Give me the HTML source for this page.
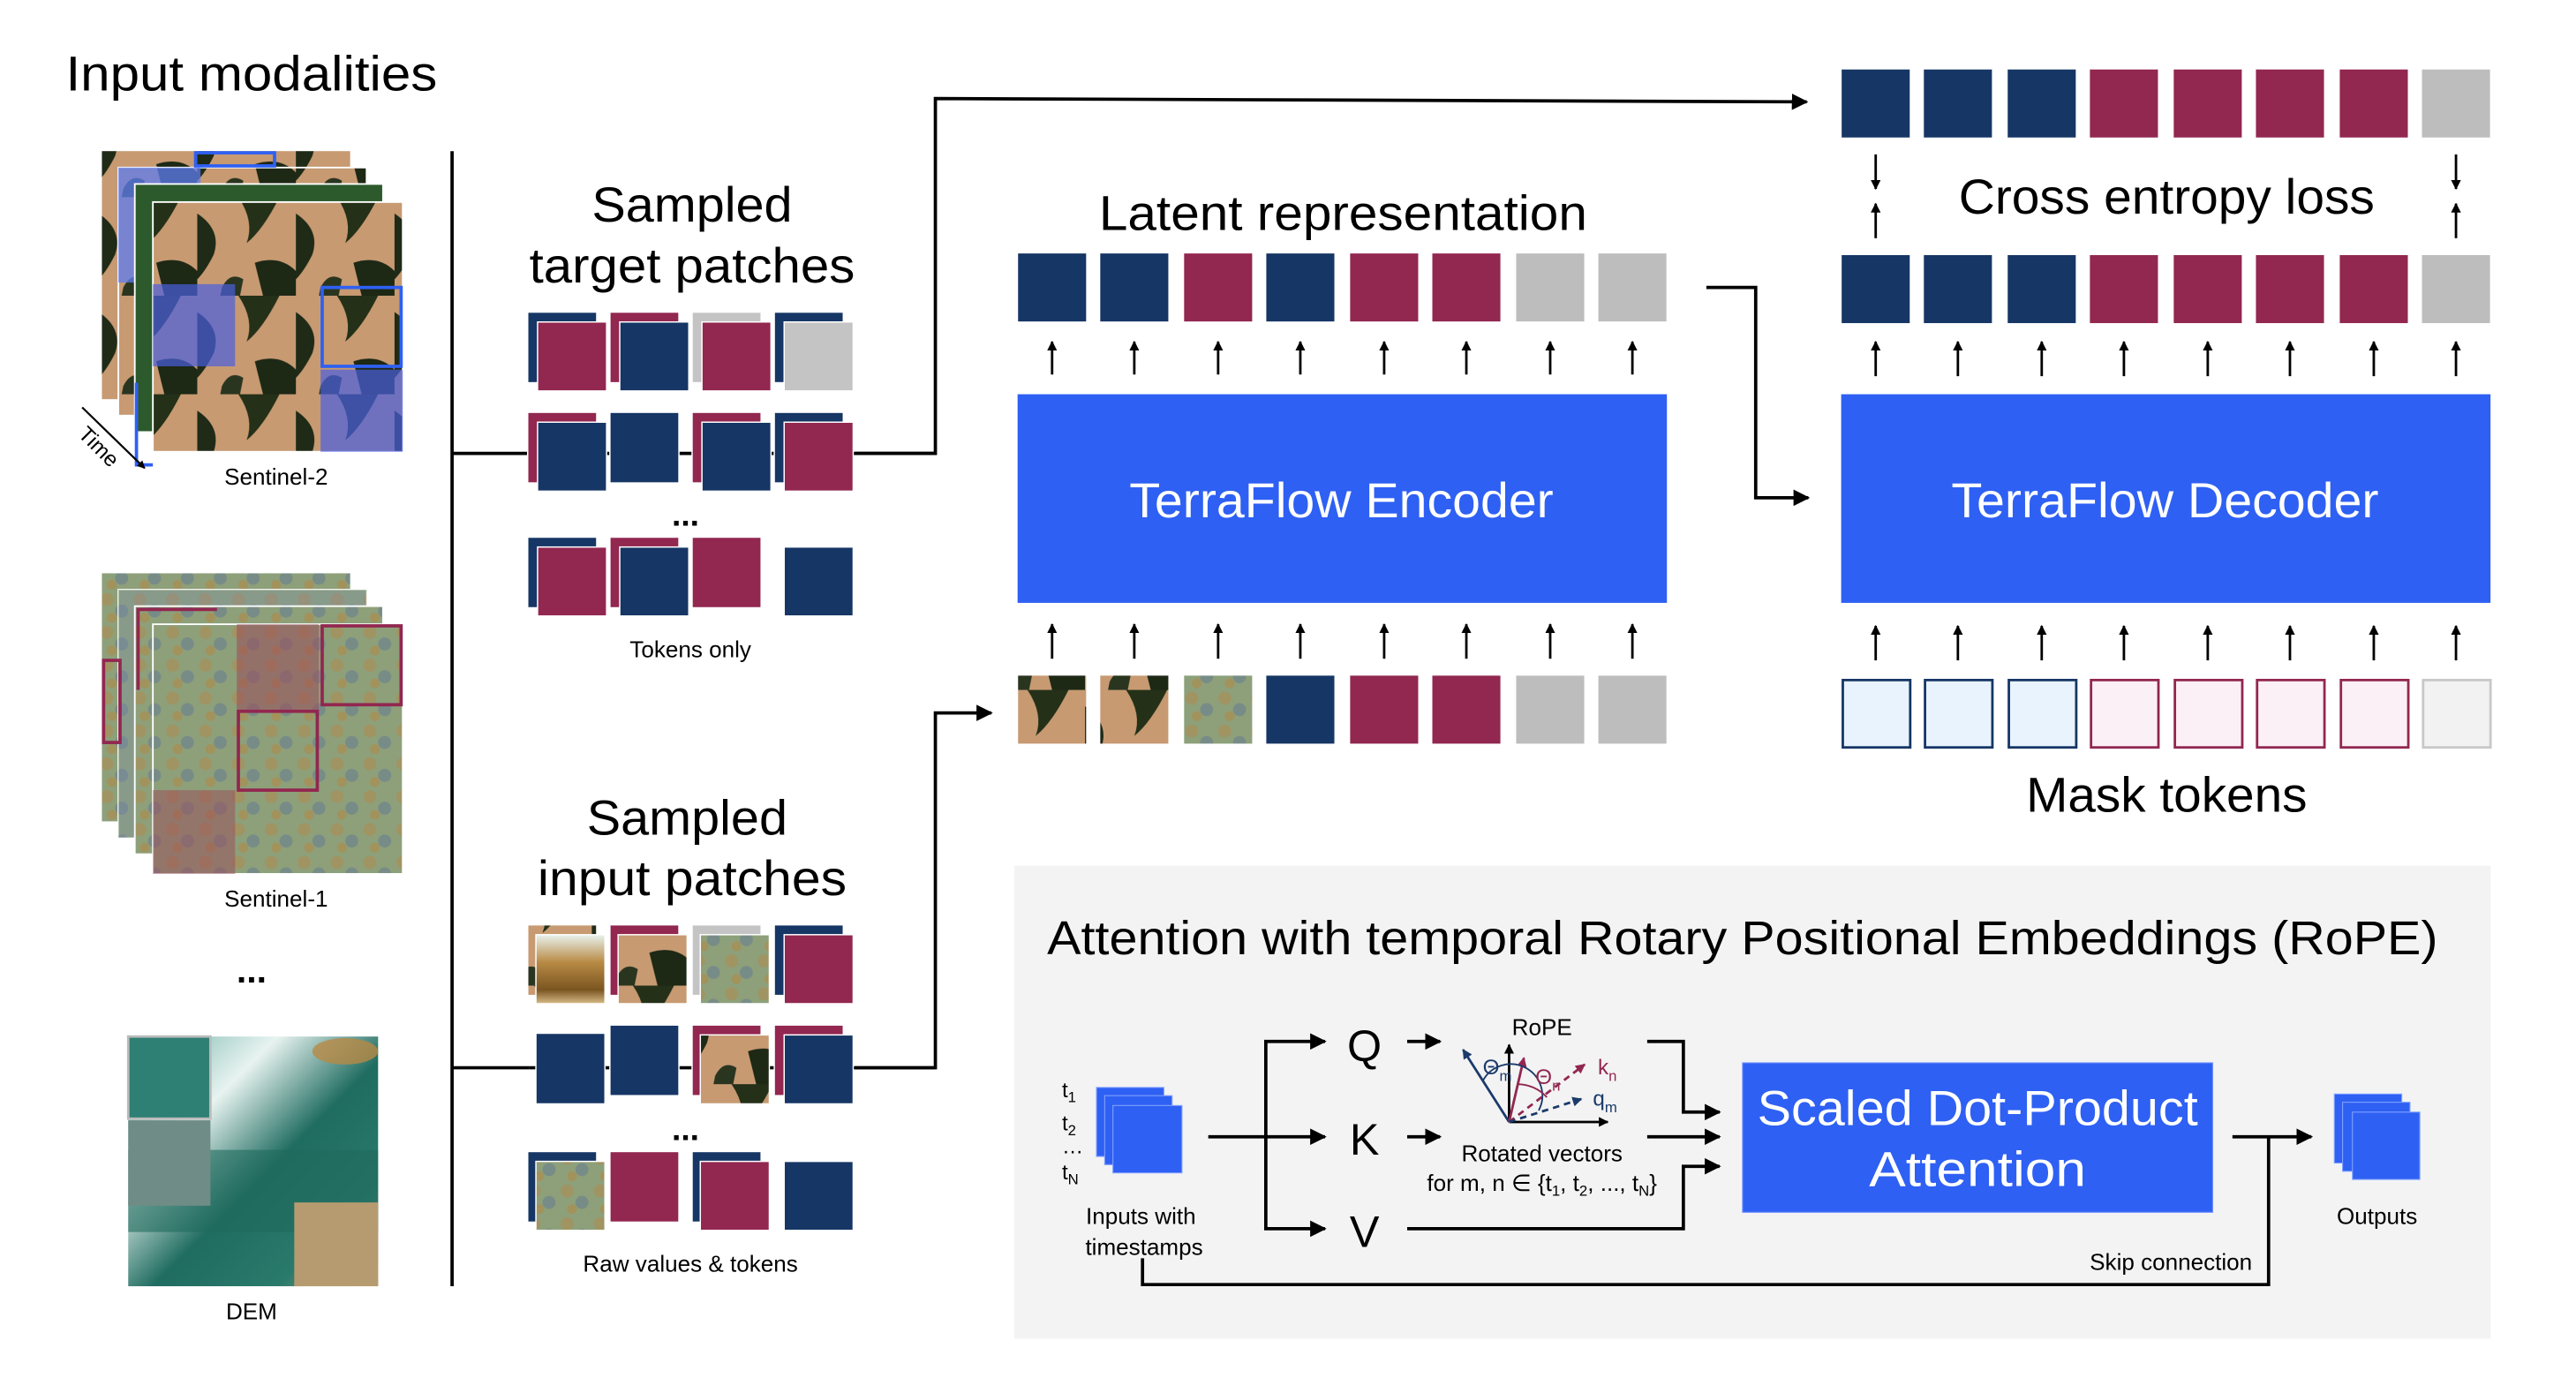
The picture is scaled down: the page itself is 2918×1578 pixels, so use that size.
<!DOCTYPE html>
<html><head><meta charset="utf-8"><style>
html,body{margin:0;padding:0;background:#fff;}
svg{display:block;}
text{font-family:"Liberation Sans",sans-serif;}
</style></head><body>
<svg width="2918" height="1578" viewBox="0 0 1567 848" preserveAspectRatio="none" xmlns="http://www.w3.org/2000/svg">
<defs>
<marker id="ah" viewBox="0 0 10 10" refX="9" refY="5" markerWidth="5" markerHeight="5" orient="auto-start-reverse"><path d="M0,0 L10,5 L0,10 z" fill="#000"/></marker>
<marker id="ahs" viewBox="0 0 10 10" refX="9" refY="5" markerWidth="4" markerHeight="6" orient="auto-start-reverse"><path d="M0,0 L10,5 L0,10 z" fill="#000"/></marker>
<marker id="ahn" viewBox="0 0 10 10" refX="9" refY="5" markerWidth="4" markerHeight="4" orient="auto"><path d="M0,0 L10,5 L0,10 z" fill="#1b3a6b"/></marker>
<marker id="ahm" viewBox="0 0 10 10" refX="9" refY="5" markerWidth="4" markerHeight="4" orient="auto"><path d="M0,0 L10,5 L0,10 z" fill="#922750"/></marker>
<pattern id="s2" width="60" height="60" patternUnits="userSpaceOnUse">
<rect width="60" height="60" fill="#c79a72"/>
<path d="M0,10 Q15,20 10,35 Q5,45 0,50Z" fill="#1f2a17"/>
<path d="M25,0 Q35,15 30,28 Q40,20 50,0Z" fill="#243018"/>
<path d="M35,40 Q50,35 60,45 L60,60 L40,60Z" fill="#1d2815"/>
<path d="M15,55 Q20,45 28,50 L26,60 L14,60Z" fill="#2a3520"/>
</pattern>
<pattern id="s1" width="20" height="20" patternUnits="userSpaceOnUse">
<rect width="20" height="20" fill="#8da07a"/>
<circle cx="5" cy="5" r="4" fill="#a98f5a" opacity=".7"/>
<circle cx="14" cy="12" r="4" fill="#6a7f8f" opacity=".6"/>
<circle cx="8" cy="16" r="3" fill="#b8843e" opacity=".5"/>
</pattern>
<linearGradient id="dem" x1="0" y1="0" x2="1" y2="1">
<stop offset="0" stop-color="#5fa9a0"/><stop offset=".3" stop-color="#e8f3f0"/><stop offset=".55" stop-color="#1f6c60"/><stop offset=".8" stop-color="#2a7a6c"/><stop offset="1" stop-color="#c2a070"/>
</linearGradient>
<linearGradient id="demb" x1="0" y1="0" x2="0" y2="1">
<stop offset="0" stop-color="#e9f2ee"/><stop offset=".4" stop-color="#b88a45"/><stop offset=".8" stop-color="#7a5520"/><stop offset="1" stop-color="#d8bc8a"/>
</linearGradient>
</defs>

<text x="40" y="55" font-size="30" textLength="226" lengthAdjust="spacingAndGlyphs">Input modalities</text>

<!-- Sentinel-2 stack -->
<rect x="62" y="92" width="151" height="151" fill="url(#s2)"/>
<rect x="72" y="102" width="151" height="151" fill="url(#s2)" stroke="#fff" stroke-width="1"/>
<rect x="72" y="102" width="50" height="70" fill="#5d7cf0" opacity=".75"/>
<rect x="82" y="112" width="151" height="151" fill="#2c5a2c" stroke="#fff" stroke-width="1"/>
<rect x="93" y="123" width="152" height="152" fill="url(#s2)" stroke="#fff" stroke-width="1"/>
<rect x="93" y="173" width="50" height="50" fill="#4a5fe0" opacity=".7"/>
<rect x="195" y="225" width="50" height="50" fill="#4a5fe0" opacity=".7"/>
<rect x="196" y="175" width="48" height="48" fill="none" stroke="#2e60f3" stroke-width="2"/>
<rect x="119" y="93" width="48" height="8" fill="none" stroke="#2e60f3" stroke-width="2"/>
<path d="M83,233 v50 h10" fill="none" stroke="#2e60f3" stroke-width="2"/>
<line x1="50" y1="248" x2="88" y2="285" stroke="#000" stroke-width="1.2" marker-end="url(#ahs)"/>
<text x="47" y="265" font-size="13" transform="rotate(45 47 265)">Time</text>
<text x="168" y="295" font-size="14" text-anchor="middle">Sentinel-2</text>

<!-- Sentinel-1 stack -->
<rect x="62" y="349" width="151" height="151" fill="url(#s1)"/>
<rect x="72" y="359" width="151" height="151" fill="#7c8bb0" stroke="#fff"/>
<rect x="72" y="359" width="151" height="151" fill="url(#s1)" opacity=".7"/>
<rect x="82" y="369" width="151" height="151" fill="url(#s1)" stroke="#fff"/>
<rect x="93" y="380" width="152" height="152" fill="url(#s1)" stroke="#fff"/>
<rect x="144" y="380" width="50" height="52" fill="#9a4a5a" opacity=".55"/>
<rect x="93" y="481" width="50" height="51" fill="#9a4a5a" opacity=".5"/>
<rect x="196" y="381" width="48" height="48" fill="none" stroke="#922750" stroke-width="2"/>
<rect x="145" y="433" width="48" height="48" fill="none" stroke="#922750" stroke-width="2"/>
<rect x="63" y="402" width="10" height="50" fill="none" stroke="#922750" stroke-width="2"/>
<path d="M84,420 v-49 h48" fill="none" stroke="#922750" stroke-width="2"/>
<text x="168" y="552" font-size="14" text-anchor="middle">Sentinel-1</text>
<text x="153" y="598" font-size="22" text-anchor="middle" font-weight="bold">...</text>

<!-- DEM -->
<rect x="78" y="631" width="152" height="152" fill="url(#dem)"/>
<rect x="78" y="700" width="152" height="50" fill="#1f6a5e" opacity=".6"/>
<rect x="78" y="631" width="50" height="50" fill="#2e7f74" stroke="#bbb" stroke-width="1.5"/>
<rect x="78" y="682" width="50" height="52" fill="#6f8c86"/>
<rect x="179" y="732" width="51" height="51" fill="#b79b70"/>
<ellipse cx="210" cy="640" rx="20" ry="8" fill="#b88a45" opacity=".8"/>
<text x="153" y="803" font-size="14" text-anchor="middle">DEM</text>

<line x1="275" y1="92" x2="275" y2="783" stroke="#000" stroke-width="2"/>
<line x1="275" y1="276" x2="322" y2="276" stroke="#000" stroke-width="2"/>
<line x1="275" y1="650" x2="322" y2="650" stroke="#000" stroke-width="2"/>

<text x="421" y="135" font-size="30" text-anchor="middle" textLength="122" lengthAdjust="spacingAndGlyphs">Sampled</text>
<text x="421" y="172" font-size="30" text-anchor="middle" textLength="198" lengthAdjust="spacingAndGlyphs">target patches</text>
<line x1="322" y1="276" x2="569" y2="276" stroke="#000" stroke-width="2"/>
<g stroke="#fff" stroke-width=".8">
<rect x="321" y="190" width="42" height="43" fill="#163665"/><rect x="327" y="196" width="42" height="42" fill="#922750"/>
<rect x="371" y="190" width="42" height="43" fill="#922750"/><rect x="377" y="196" width="42" height="42" fill="#163665"/>
<rect x="421" y="190" width="42" height="43" fill="#c4c4c4"/><rect x="427" y="196" width="42" height="42" fill="#922750"/>
<rect x="471" y="190" width="42" height="43" fill="#163665"/><rect x="477" y="196" width="42" height="42" fill="#c4c4c4"/>
<rect x="321" y="251" width="42" height="43" fill="#922750"/><rect x="327" y="257" width="42" height="42" fill="#163665"/>
<rect x="371" y="251" width="42" height="43" fill="#163665"/>
<rect x="421" y="251" width="42" height="43" fill="#922750"/><rect x="427" y="257" width="42" height="42" fill="#163665"/>
<rect x="471" y="251" width="42" height="43" fill="#163665"/><rect x="477" y="257" width="42" height="42" fill="#922750"/>
<rect x="321" y="327" width="42" height="43" fill="#163665"/><rect x="327" y="333" width="42" height="42" fill="#922750"/>
<rect x="371" y="327" width="42" height="43" fill="#922750"/><rect x="377" y="333" width="42" height="42" fill="#163665"/>
<rect x="421" y="327" width="42" height="43" fill="#922750"/>
<rect x="477" y="333" width="42" height="42" fill="#163665"/>
</g>
<text x="417" y="320" font-size="20" text-anchor="middle" font-weight="bold">...</text>
<text x="420" y="400" font-size="14" text-anchor="middle">Tokens only</text>

<text x="418" y="508" font-size="30" text-anchor="middle" textLength="122" lengthAdjust="spacingAndGlyphs">Sampled</text>
<text x="421" y="545" font-size="30" text-anchor="middle" textLength="188" lengthAdjust="spacingAndGlyphs">input patches</text>
<line x1="322" y1="650" x2="569" y2="650" stroke="#000" stroke-width="2"/>
<g stroke="#fff" stroke-width=".8">
<rect x="321" y="563" width="42" height="43" fill="url(#s2)"/><rect x="326" y="569" width="42" height="42" fill="url(#demb)"/>
<rect x="371" y="563" width="42" height="43" fill="#922750"/><rect x="376" y="569" width="42" height="42" fill="url(#s2)"/>
<rect x="421" y="563" width="42" height="43" fill="#c4c4c4"/><rect x="426" y="569" width="42" height="42" fill="url(#s1)"/>
<rect x="471" y="563" width="42" height="43" fill="#163665"/><rect x="477" y="569" width="42" height="42" fill="#922750"/>
<rect x="326" y="629" width="42" height="43" fill="#163665"/>
<rect x="371" y="624" width="42" height="43" fill="#163665"/>
<rect x="421" y="624" width="42" height="43" fill="#922750"/><rect x="426" y="630" width="42" height="42" fill="url(#s2)"/>
<rect x="471" y="624" width="42" height="43" fill="#922750"/><rect x="477" y="630" width="42" height="42" fill="#163665"/>
<rect x="321" y="701" width="42" height="43" fill="#163665"/><rect x="326" y="707" width="42" height="42" fill="url(#s1)"/>
<rect x="371" y="701" width="42" height="43" fill="#922750"/>
<rect x="421" y="701" width="42" height="43" fill="#163665"/><rect x="426" y="707" width="42" height="42" fill="#922750"/>
<rect x="477" y="707" width="42" height="42" fill="#163665"/>
</g>
<text x="417" y="694" font-size="20" text-anchor="middle" font-weight="bold">...</text>
<text x="420" y="774" font-size="14" text-anchor="middle">Raw values &amp; tokens</text>

<polyline points="520,276 569,276 569,60 1099,62" fill="none" stroke="#000" stroke-width="2" marker-end="url(#ah)"/>
<polyline points="520,650 569,650 569,434 603,434" fill="none" stroke="#000" stroke-width="2" marker-end="url(#ah)"/>
<polyline points="1038,175 1068,175 1068,303 1100,303" fill="none" stroke="#000" stroke-width="2" marker-end="url(#ah)"/>

<text x="817" y="140" font-size="30" text-anchor="middle" textLength="297" lengthAdjust="spacingAndGlyphs">Latent representation</text>
<g stroke="#fff" stroke-width=".6">
<rect x="619" y="154" width="42" height="42" fill="#163665"/>
<rect x="669" y="154" width="42" height="42" fill="#163665"/>
<rect x="720" y="154" width="42" height="42" fill="#922750"/>
<rect x="770" y="154" width="42" height="42" fill="#163665"/>
<rect x="821" y="154" width="42" height="42" fill="#922750"/>
<rect x="871" y="154" width="42" height="42" fill="#922750"/>
<rect x="922" y="154" width="42" height="42" fill="#bdbdbd"/>
<rect x="972" y="154" width="42" height="42" fill="#bdbdbd"/>
</g>
<g stroke="#000" stroke-width="1.5" marker-end="url(#ahs)">
<line x1="640" y1="228" x2="640" y2="208"/><line x1="690" y1="228" x2="690" y2="208"/><line x1="741" y1="228" x2="741" y2="208"/><line x1="791" y1="228" x2="791" y2="208"/><line x1="842" y1="228" x2="842" y2="208"/><line x1="892" y1="228" x2="892" y2="208"/><line x1="943" y1="228" x2="943" y2="208"/><line x1="993" y1="228" x2="993" y2="208"/>
<line x1="640" y1="401" x2="640" y2="380"/><line x1="690" y1="401" x2="690" y2="380"/><line x1="741" y1="401" x2="741" y2="380"/><line x1="791" y1="401" x2="791" y2="380"/><line x1="842" y1="401" x2="842" y2="380"/><line x1="892" y1="401" x2="892" y2="380"/><line x1="943" y1="401" x2="943" y2="380"/><line x1="993" y1="401" x2="993" y2="380"/>
<line x1="1141" y1="229" x2="1141" y2="208"/><line x1="1191" y1="229" x2="1191" y2="208"/><line x1="1242" y1="229" x2="1242" y2="208"/><line x1="1292" y1="229" x2="1292" y2="208"/><line x1="1343" y1="229" x2="1343" y2="208"/><line x1="1393" y1="229" x2="1393" y2="208"/><line x1="1444" y1="229" x2="1444" y2="208"/><line x1="1494" y1="229" x2="1494" y2="208"/>
<line x1="1141" y1="402" x2="1141" y2="381"/><line x1="1191" y1="402" x2="1191" y2="381"/><line x1="1242" y1="402" x2="1242" y2="381"/><line x1="1292" y1="402" x2="1292" y2="381"/><line x1="1343" y1="402" x2="1343" y2="381"/><line x1="1393" y1="402" x2="1393" y2="381"/><line x1="1444" y1="402" x2="1444" y2="381"/><line x1="1494" y1="402" x2="1494" y2="381"/>
<line x1="1141" y1="94" x2="1141" y2="115"/><line x1="1494" y1="94" x2="1494" y2="115"/>
<line x1="1141" y1="145" x2="1141" y2="124"/><line x1="1494" y1="145" x2="1494" y2="124"/>
</g>

<rect x="619" y="240" width="395" height="127" fill="#2e60f3"/>
<text x="816" y="315" font-size="30" fill="#fff" text-anchor="middle" textLength="258" lengthAdjust="spacingAndGlyphs">TerraFlow Encoder</text>

<g stroke="#fff" stroke-width=".6">
<rect x="619" y="411" width="42" height="42" fill="url(#s2)"/>
<rect x="669" y="411" width="42" height="42" fill="url(#s2)"/>
<rect x="720" y="411" width="42" height="42" fill="url(#s1)"/>
<rect x="770" y="411" width="42" height="42" fill="#163665"/>
<rect x="821" y="411" width="42" height="42" fill="#922750"/>
<rect x="871" y="411" width="42" height="42" fill="#922750"/>
<rect x="922" y="411" width="42" height="42" fill="#bdbdbd"/>
<rect x="972" y="411" width="42" height="42" fill="#bdbdbd"/>
</g>

<g stroke="#fff" stroke-width=".6">
<rect x="1120" y="42" width="42" height="42" fill="#163665"/>
<rect x="1170" y="42" width="42" height="42" fill="#163665"/>
<rect x="1221" y="42" width="42" height="42" fill="#163665"/>
<rect x="1271" y="42" width="42" height="42" fill="#922750"/>
<rect x="1322" y="42" width="42" height="42" fill="#922750"/>
<rect x="1372" y="42" width="42" height="42" fill="#922750"/>
<rect x="1423" y="42" width="42" height="42" fill="#922750"/>
<rect x="1473" y="42" width="42" height="42" fill="#bdbdbd"/>
<rect x="1120" y="155" width="42" height="42" fill="#163665"/>
<rect x="1170" y="155" width="42" height="42" fill="#163665"/>
<rect x="1221" y="155" width="42" height="42" fill="#163665"/>
<rect x="1271" y="155" width="42" height="42" fill="#922750"/>
<rect x="1322" y="155" width="42" height="42" fill="#922750"/>
<rect x="1372" y="155" width="42" height="42" fill="#922750"/>
<rect x="1423" y="155" width="42" height="42" fill="#922750"/>
<rect x="1473" y="155" width="42" height="42" fill="#bdbdbd"/>
</g>
<text x="1318" y="130" font-size="30" text-anchor="middle" textLength="253" lengthAdjust="spacingAndGlyphs">Cross entropy loss</text>
<rect x="1120" y="240" width="395" height="127" fill="#2e60f3"/>
<text x="1317" y="315" font-size="30" fill="#fff" text-anchor="middle" textLength="260" lengthAdjust="spacingAndGlyphs">TerraFlow Decoder</text>
<g stroke-width="1.5">
<rect x="1121" y="414" width="41" height="41" fill="#e8f3fd" stroke="#163665"/>
<rect x="1171" y="414" width="41" height="41" fill="#e8f3fd" stroke="#163665"/>
<rect x="1222" y="414" width="41" height="41" fill="#e8f3fd" stroke="#163665"/>
<rect x="1272" y="414" width="41" height="41" fill="#fbf0f5" stroke="#922750"/>
<rect x="1323" y="414" width="41" height="41" fill="#fbf0f5" stroke="#922750"/>
<rect x="1373" y="414" width="41" height="41" fill="#fbf0f5" stroke="#922750"/>
<rect x="1424" y="414" width="41" height="41" fill="#fbf0f5" stroke="#922750"/>
<rect x="1474" y="414" width="41" height="41" fill="#f2f2f2" stroke="#c8c8c8"/>
</g>
<text x="1318" y="494" font-size="30" text-anchor="middle" textLength="171" lengthAdjust="spacingAndGlyphs">Mask tokens</text>

<rect x="617" y="527" width="898" height="288" fill="#f3f3f3"/>
<text x="637" y="581" font-size="29" textLength="846" lengthAdjust="spacingAndGlyphs">Attention with temporal Rotary Positional Embeddings (RoPE)</text>

<g font-size="13">
<text x="646" y="668">t<tspan font-size="9" dy="3">1</tspan></text>
<text x="646" y="688">t<tspan font-size="9" dy="3">2</tspan></text>
<text x="646" y="702">…</text>
<text x="646" y="718">t<tspan font-size="9" dy="3">N</tspan></text>
</g>
<rect x="667" y="662" width="41" height="42" fill="#2e60f3" stroke="#7fa0ff" stroke-width=".6"/>
<rect x="672" y="667" width="41" height="42" fill="#2e60f3" stroke="#7fa0ff" stroke-width=".6"/>
<rect x="677" y="673" width="42" height="41" fill="#2e60f3" stroke="#7fa0ff" stroke-width=".6"/>
<text x="694" y="745" font-size="14" text-anchor="middle">Inputs with</text>
<text x="696" y="764" font-size="14" text-anchor="middle">timestamps</text>

<g fill="none" stroke="#000" stroke-width="2">
<line x1="735" y1="692" x2="770" y2="692"/>
<polyline points="806,634 770,634 770,748 806,748" marker-start="url(#ah)" marker-end="url(#ah)"/>
<line x1="770" y1="692" x2="806" y2="692" marker-end="url(#ah)"/>
<line x1="856" y1="634" x2="876" y2="634" marker-end="url(#ah)"/>
<line x1="856" y1="692" x2="876" y2="692" marker-end="url(#ah)"/>
<polyline points="1002,634 1024,634 1024,677 1046,677" marker-end="url(#ah)"/>
<line x1="1002" y1="692" x2="1046" y2="692" marker-end="url(#ah)"/>
<polyline points="856,748 1024,748 1024,710 1046,710" marker-end="url(#ah)"/>
<line x1="1358" y1="692" x2="1406" y2="692" marker-end="url(#ah)"/>
<polyline points="695,766 695,782 1380,782 1380,692"/>
</g>
<text x="830" y="646" font-size="27" text-anchor="middle">Q</text>
<text x="830" y="703" font-size="27" text-anchor="middle">K</text>
<text x="830" y="759" font-size="27" text-anchor="middle">V</text>

<text x="938" y="630" font-size="14" text-anchor="middle">RoPE</text>
<g fill="none">
<line x1="918" y1="683" x2="918" y2="636" stroke="#000" stroke-width="1.5" marker-end="url(#ahs)"/>
<line x1="918" y1="683" x2="978" y2="683" stroke="#000" stroke-width="1.5" marker-end="url(#ahs)"/>
<line x1="918" y1="683" x2="890" y2="639" stroke="#1b3a6b" stroke-width="1.5" marker-end="url(#ahn)"/>
<line x1="918" y1="683" x2="927" y2="644" stroke="#922750" stroke-width="1.5" marker-end="url(#ahm)"/>
<line x1="918" y1="683" x2="964" y2="648" stroke="#922750" stroke-width="1.5" stroke-dasharray="4,3" marker-end="url(#ahm)"/>
<line x1="918" y1="683" x2="962" y2="669" stroke="#1b3a6b" stroke-width="1.5" stroke-dasharray="4,3" marker-end="url(#ahn)"/>
<path d="M902,658 A18,18 0 0 1 936,676" stroke="#1b3a6b" stroke-width="1"/>
<path d="M923,660 A24,24 0 0 1 941,668" stroke="#922750" stroke-width="1"/>
</g>
<text x="902" y="654" font-size="13" fill="#1b3a6b">Θ<tspan font-size="9" dy="4">m</tspan></text>
<text x="934" y="660" font-size="13" fill="#922750">Θ<tspan font-size="9" dy="4">n</tspan></text>
<text x="972" y="654" font-size="13" fill="#922750">k<tspan font-size="9" dy="4">n</tspan></text>
<text x="969" y="673" font-size="13" fill="#1b3a6b">q<tspan font-size="9" dy="4">m</tspan></text>
<text x="938" y="707" font-size="14" text-anchor="middle">Rotated vectors</text>
<text x="938" y="725" font-size="14" text-anchor="middle">for m, n ∈ {t<tspan font-size="9" dy="3">1</tspan><tspan dy="-3">, t</tspan><tspan font-size="9" dy="3">2</tspan><tspan dy="-3">, ..., t</tspan><tspan font-size="9" dy="3">N</tspan><tspan dy="-3">}</tspan></text>

<rect x="1060" y="647" width="286" height="91" fill="#2e60f3" stroke="#6f90ff" stroke-width=".6"/>
<text x="1203" y="685" font-size="30" fill="#fff" text-anchor="middle" textLength="268" lengthAdjust="spacingAndGlyphs">Scaled Dot-Product</text>
<text x="1203" y="722" font-size="30" fill="#fff" text-anchor="middle" textLength="132" lengthAdjust="spacingAndGlyphs">Attention</text>

<rect x="1420" y="666" width="41" height="42" fill="#2e60f3" stroke="#7fa0ff" stroke-width=".6"/>
<rect x="1425" y="671" width="41" height="42" fill="#2e60f3" stroke="#7fa0ff" stroke-width=".6"/>
<rect x="1431" y="677" width="41" height="41" fill="#2e60f3" stroke="#7fa0ff" stroke-width=".6"/>
<text x="1446" y="745" font-size="14" text-anchor="middle">Outputs</text>
<text x="1370" y="773" font-size="14" text-anchor="end">Skip connection</text>
</svg>
</body></html>
